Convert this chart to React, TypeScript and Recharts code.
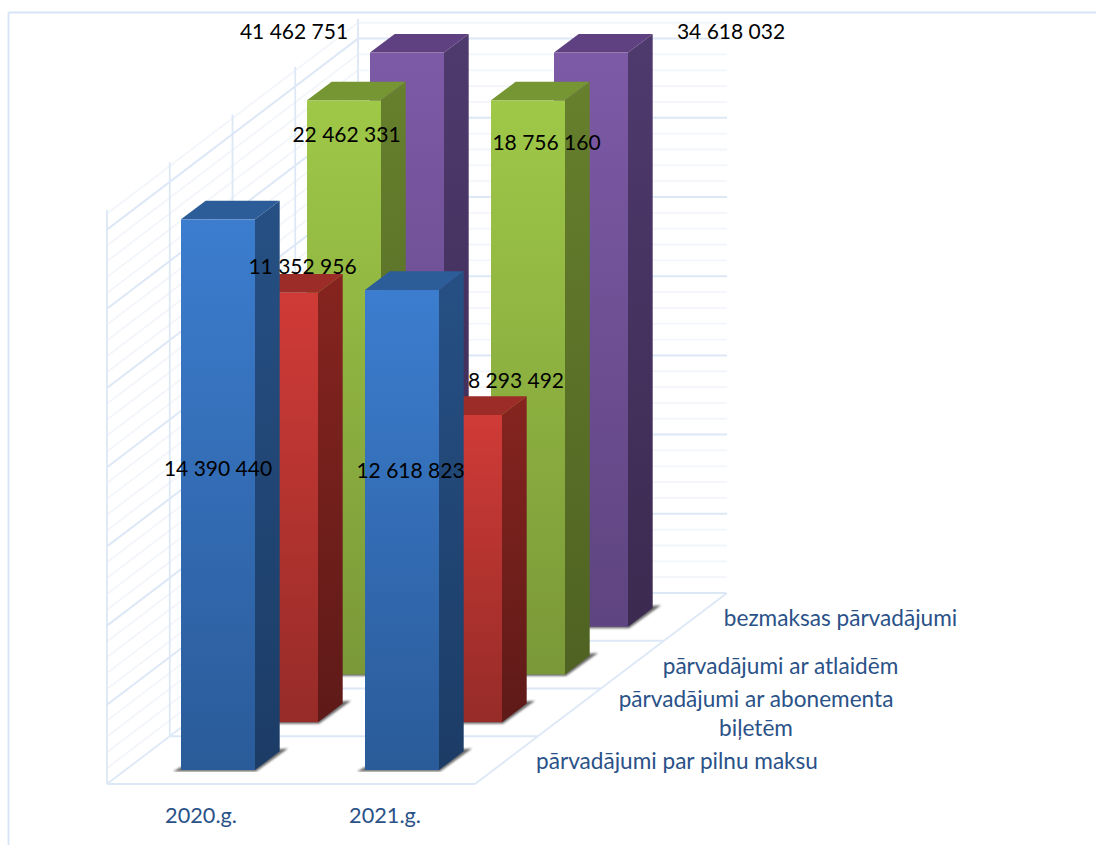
import React from "react";
import { BarChart, Bar, XAxis, YAxis, Customized, LabelList } from "recharts";

const categories = ["2020.g.", "2021.g."];
const fullFare = [14390440, 12618823];
const seasonTicket = [11352956, 8293492];
const discounted = [22462331, 18756160];
const free = [41462751, 34618032];
const seriesNames = ["pārvadājumi par pilnu maksu", "pārvadājumi ar abonementa biļetēm", "pārvadājumi ar atlaidēm", "bezmaksas pārvadājumi"];

const data = categories.map((c, i) => ({ c, fullFare: fullFare[i], seasonTicket: seasonTicket[i], discounted: discounted[i], free: free[i] }));

const W = 1096, H = 845;
const PLOT_TOP = 5, PLOT_BOTTOM = 772;
const AXIS_BASE = 590000, AXIS_CAP = 14980000;
const K = 39.9 / 1e6;
const DOM_LOW = AXIS_BASE - (PLOT_BOTTOM - 770) / K;
const DOM_HIGH = DOM_LOW + (PLOT_BOTTOM - PLOT_TOP) / K;
const BAR_W = 74, DX = 63, DY = 47.75, SX = 17, DEPTH_X = 24.7, DEPTH_Y = 18.7;

const rows = [
  { key: "fullFare", grad: ["#3c7dcf", "#2a5b99"], side: ["#265084", "#1c3c66"], top: "#2c5d98" },
  { key: "seasonTicket", grad: ["#d03b37", "#962b28"], side: ["#86241f", "#5e1a18"], top: "#9c2c28" },
  { key: "discounted", grad: ["#9fc848", "#7a9838"], side: ["#66802d", "#4f6222"], top: "#769633" },
  { key: "free", grad: ["#7d5aa6", "#5e4480"], side: ["#4f3a6e", "#3c2a50"], top: "#5f4080" },
];
const labelDx = [[17, 25.5], [101.5, 131], [145.5, 161.5], [93, 346]];
const labelY = [[467, 469], [265, 379], [133, 141], [30, 30]];

const fmt = (v: number) => String(v).replace(/\B(?=(\d{3})+$)/g, " ");

const makeShape = (r: number) => (p: any) => {
  const v = data[p.index][rows[r].key as "free"];
  const k = p.height / (v - DOM_LOW);
  const b = p.y + p.height - (AXIS_BASE - DOM_LOW) * k - r * DY;
  const h = (Math.min(v, AXIS_CAP) - AXIS_BASE) * k;
  const x = p.x + SX + r * DX;
  const t = b - h;
  const w = BAR_W;
  const pts = (a: number[][]) => a.map((q) => q.join(",")).join(" ");
  return (
    <g>
      <polygon points={pts([[x - 8, b + 1.5], [x + w + 1, b + 1.5], [x + w + 33, b - 21.5], [x + w + 24, b - 21], [x + w, b - 6], [x, b - 3]])} fill="#6b6b6b" filter="url(#soft)" />
      <rect x={x} y={t} width={w} height={h} fill={`url(#front${r})`} />
      <polygon points={pts([[x + w, t], [x + w + DEPTH_X, t - DEPTH_Y], [x + w + DEPTH_X, b - DEPTH_Y], [x + w, b]])} fill={`url(#side${r})`} />
      <polygon points={pts([[x, t], [x + DEPTH_X, t - DEPTH_Y], [x + w + DEPTH_X, t - DEPTH_Y], [x + w, t]])} fill={rows[r].top} />
    </g>
  );
};

const MAJOR = "#dde8f7", MINOR = "#f2f5fa";
const Walls = () => {
  const lines: React.ReactNode[] = [];
  const step = 15.84;
  for (let i = 36; i >= 1; i--) {
    const y = 593 - i * step;
    const major = i % 5 === 0;
    const c = major ? MAJOR : MINOR;
    const sw = major ? 2 : 1.8;
    lines.push(<line key={"b" + i} x1={358} y1={y} x2={727} y2={y} stroke={c} strokeWidth={sw} />);
    lines.push(<line key={"l" + i} x1={107} y1={y + 191} x2={358} y2={y} stroke={c} strokeWidth={sw} />);
  }
  [0, 1, 2, 3, 4].forEach((i) => {
    const x = 107 + i * 62.75;
    const yb = 784 - i * 47.75;
    lines.push(<line key={"v" + i} x1={x} y1={yb} x2={x} y2={yb - 574} stroke={MAJOR} strokeWidth={1.8} />);
    lines.push(<line key={"d" + i} x1={x} y1={yb} x2={x + 368} y2={yb} stroke={MAJOR} strokeWidth={1.8} />);
  });
  lines.push(<line key="fl" x1={107} y1={784} x2={358} y2={593} stroke={MAJOR} strokeWidth={1.8} />);
  lines.push(<line key="fr" x1={475} y1={784} x2={727} y2={593} stroke={MAJOR} strokeWidth={1.8} />);
  lines.push(<line key="bt" x1={8.5} y1={12.5} x2={1096} y2={12.5} stroke="#d6e4f6" strokeWidth={1.8} />);
  lines.push(<line key="bl" x1={8.5} y1={12.5} x2={8.5} y2={845} stroke="#d6e4f6" strokeWidth={1.8} />);
  return <g>{lines}</g>;
};

const TXT = "#2a5288";
const depthLabels = [
  { lines: [seriesNames[3]], cx: 840.5, y: [617.5] },
  { lines: ["pārvadājumi ar atlaidēm"], cx: 780.5, y: [665.5] },
  { lines: ["pārvadājumi ar abonementa", "biļetēm"], cx: 756, y: [698, 727.5] },
  { lines: [seriesNames[0]], cx: 677, y: [760.5] },
];
const DepthAxis = () => (
  <g>
    {depthLabels.map((d) =>
      d.lines.map((l, i) => (
        <text key={l} x={d.cx} y={d.y[i]} textAnchor="middle" dominantBaseline="central" fontFamily="Lato" fontSize={22.6} fill={TXT}>
          {l}
        </text>
      ))
    )}
  </g>
);

export default function App() {
  return (
    <div style={{ position: "absolute", left: 0, top: 0, width: W, height: H, overflow: "hidden" }}>
      <BarChart width={W} height={H} data={data} barSize={BAR_W} barGap={-BAR_W} margin={{ top: PLOT_TOP, right: 0, bottom: 0, left: 0 }}>
        <defs>
          {rows.map((r, i) => (
            <linearGradient key={"f" + i} id={`front${i}`} x1="0" y1="0" x2="0" y2="1">
              <stop offset="0" stopColor={r.grad[0]} />
              <stop offset="1" stopColor={r.grad[1]} />
            </linearGradient>
          ))}
          {rows.map((r, i) => (
            <linearGradient key={"s" + i} id={`side${i}`} x1="0" y1="0" x2="0" y2="1">
              <stop offset="0" stopColor={r.side[0]} />
              <stop offset="1" stopColor={r.side[1]} />
            </linearGradient>
          ))}
          <filter id="soft" x="-10%" y="-50%" width="120%" height="200%">
            <feGaussianBlur stdDeviation="0.9" />
          </filter>
        </defs>
        <Customized component={Walls} />
        <XAxis
          dataKey="c"
          height={H - PLOT_BOTTOM}
          padding={{ left: 109, right: 619 }}
          axisLine={false}
          tickLine={false}
          tickMargin={30}
          tick={{ fill: TXT, fontFamily: "Lato", fontSize: 21.7 }}
        />
        <YAxis hide domain={[DOM_LOW, DOM_HIGH]} allowDataOverflow />
        {[3, 2, 1, 0].map((r) => (
          <Bar key={rows[r].key} dataKey={rows[r].key} isAnimationActive={false} shape={makeShape(r)} />
        ))}
        {[3, 2, 1, 0].map((r) => (
          <Bar key={"lab" + r} dataKey={rows[r].key} isAnimationActive={false} shape={() => null}>
            <LabelList
              dataKey={rows[r].key}
              content={(p: any) => {
                const vb = p.viewBox ?? p;
                const i = p.index;
                return (
                  <text x={vb.x + BAR_W / 2 + labelDx[r][i]} y={labelY[r][i]} textAnchor="middle" dominantBaseline="central" fontFamily="Lato" fontSize={21} fill="#000">
                    {fmt(data[i][rows[r].key as "free"])}
                  </text>
                );
              }}
            />
          </Bar>
        ))}
        <Customized component={DepthAxis} />
      </BarChart>
    </div>
  );
}
